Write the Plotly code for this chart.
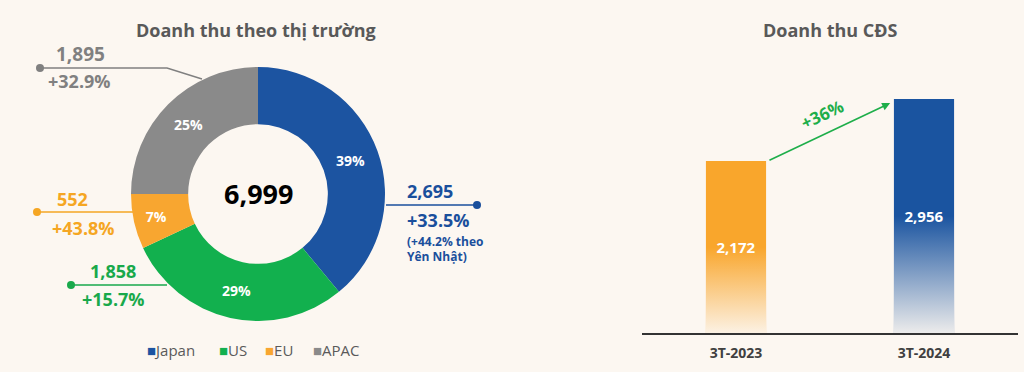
import plotly.graph_objects as go

# ---------------- data ----------------
markets = ["Japan", "US", "EU", "APAC"]
market_share_pct = [39, 29, 7, 25]
market_revenue = ["2,695", "1,858", "552", "1,895"]
market_growth = ["+33.5%", "+15.7%", "+43.8%", "+32.9%"]
market_colors = ["#1c54a1", "#12b04e", "#f8a630", "#8a8a8a"]
total_revenue = "6,999"

periods = ["3T-2023", "3T-2024"]
cds_revenue = [2172, 2956]
cds_colors = ["#f9a62c", "#1a54a0"]
cds_growth = "+36%"

W, H = 1024, 372
BG = "#fcf7f1"
FONT = "Open Sans"


def px(x):
    return x / W


def py(y):
    return 1 - y / H


fig = go.Figure()

# ---------------- donut ----------------
fig.add_trace(go.Pie(
    labels=markets,
    values=market_share_pct,
    text=[f"{v}%" for v in market_share_pct],
    textinfo="text",
    hole=0.55,
    sort=False,
    direction="clockwise",
    rotation=0,
    marker=dict(colors=market_colors, line=dict(width=0)),
    textposition="inside",
    insidetextorientation="horizontal",
    textfont=dict(family=FONT, size=14, color="white", weight="bold"),
    domain=dict(x=[px(131), px(385)], y=[py(321), py(67)]),
    showlegend=False,
))

# ---------------- bars ----------------
bar_w = 0.32
fig.add_trace(go.Bar(
    x=list(range(len(periods))),
    y=cds_revenue,
    width=bar_w,
    marker=dict(color=cds_colors, line=dict(width=0)),
    text=[f"{v:,}" for v in cds_revenue],
    textposition="inside",
    insidetextanchor="middle",
    textfont=dict(family=FONT, size=15, color="white", weight="bold"),
    xaxis="x", yaxis="y",
    showlegend=False,
    hoverinfo="skip",
))

# fade overlay at the bottom of each bar (gradient look)
for i, v in enumerate(cds_revenue):
    x0, x1 = i - bar_w / 2, i + bar_w / 2
    top = v * 0.5
    fig.add_trace(go.Scatter(
        x=[x0, x0, x1, x1, x0],
        y=[0, top, top, 0, 0],
        fill="toself",
        mode="lines",
        line=dict(width=0),
        fillgradient=dict(
            type="vertical",
            colorscale=[[0, "rgba(252,247,241,0.93)"], [1, "rgba(252,247,241,0)"]],
            start=0, stop=top,
        ),
        xaxis="x", yaxis="y",
        showlegend=False,
        hoverinfo="skip",
    ))

annotations = []
shapes = []


def label(x, y, text, color, size, anchor="center", family=FONT):
    annotations.append(dict(x=px(x), y=py(y), xref="paper", yref="paper",
                            text=text, showarrow=False, xanchor=anchor,
                            yanchor="middle",
                            font=dict(family=family, size=size, color=color)))


def line(pts, color):
    path = "M " + " L ".join(f"{px(a)},{py(b)}" for a, b in pts)
    shapes.append(dict(type="path", xref="paper", yref="paper", path=path,
                       line=dict(color=color, width=1.5)))


def dot(x, y, color, r=4):
    shapes.append(dict(type="circle", xref="paper", yref="paper",
                       x0=px(x - r), x1=px(x + r), y0=py(y + r), y1=py(y - r),
                       fillcolor=color, line=dict(width=0)))


# titles
label(256, 30, "<b>Doanh thu theo thị trường</b>", "#595959", 18)
label(830, 30, "<b>Doanh thu CĐS</b>", "#595959", 18)

# donut center
label(258, 193, f"<b>{total_revenue}</b>", "black", 27)

col = dict(zip(markets, ["#1a4f9c", "#19a94b", "#f5a623", "#808080"]))

# APAC
c = col["APAC"]
line([(40, 68), (167, 68), (202, 79)], c)
dot(40, 68, c)
label(80, 54, f"<b>{market_revenue[3]}</b>", c, 19)
label(79, 81, f"<b>{market_growth[3]}</b>", c, 18)

# Japan
c = col["Japan"]
line([(386, 205), (477, 205)], c)
dot(477, 205, c)
label(405, 191, f"<b>{market_revenue[0]}</b>", c, 18, "left")
label(405, 220, f"<b>{market_growth[0]}</b>", c, 18, "left")
label(405, 241, "<b>(+44.2% theo</b>", c, 12, "left")
label(405, 256, "<b>Yên Nhật)</b>", c, 12, "left")

# EU
c = col["EU"]
line([(37, 212), (133, 212)], c)
dot(37, 212, c)
label(72, 199, f"<b>{market_revenue[2]}</b>", c, 18)
label(83, 228, f"<b>{market_growth[2]}</b>", c, 18)

# US
c = col["US"]
line([(71, 285), (167, 285)], c)
dot(71, 285, c)
label(113, 271, f"<b>{market_revenue[1]}</b>", c, 18)
label(113, 299, f"<b>{market_growth[1]}</b>", c, 18)

# legend (manual)
leg_x = [145, 217, 263, 311]
for name, colr, lx in zip(markets, market_colors, leg_x):
    label(lx, 350, f"<span style='color:{colr}'>■</span>{name}", "#5a5a5a", 15, "left")

# growth arrow on bar chart
annotations.append(dict(x=0.82, y=2904, ax=0.17, ay=2172, xref="x", yref="y",
                        axref="x", ayref="y", text="", showarrow=True,
                        arrowhead=2, arrowsize=1, arrowwidth=1.6,
                        arrowcolor="#1eae4a", standoff=0, startstandoff=0))
annotations.append(dict(x=0.457, y=2760, xref="x", yref="y",
                        xanchor="center", yanchor="middle",
                        text=f"<b>{cds_growth}</b>", showarrow=False,
                        textangle=-25,
                        font=dict(family=FONT, size=17, color="#1eae4a")))

fig.update_layout(
    width=W, height=H,
    margin=dict(l=0, r=0, t=0, b=0),
    paper_bgcolor=BG, plot_bgcolor="rgba(0,0,0,0)",
    xaxis=dict(domain=[px(642), px(1018)], range=[-0.5, 1.5],
               tickmode="array", tickvals=list(range(len(periods))),
               ticktext=[f"<b>{p}</b>" for p in periods],
               tickfont=dict(family=FONT, size=14, color="#404040"),
               showline=True, linecolor="#333333", linewidth=1.5,
               showgrid=False, zeroline=False, ticks="",
               ticklabelstandoff=6, fixedrange=True),
    yaxis=dict(domain=[py(333), py(48)], range=[0, 3600],
               visible=False, showgrid=False, zeroline=False, fixedrange=True),
    annotations=annotations,
    shapes=shapes,
    showlegend=False,
)

fig.write_html(
    "out.html",
    config={"displayModeBar": False},
    post_script="document.body.style.margin='0';document.body.style.background='%s';" % BG,
)
